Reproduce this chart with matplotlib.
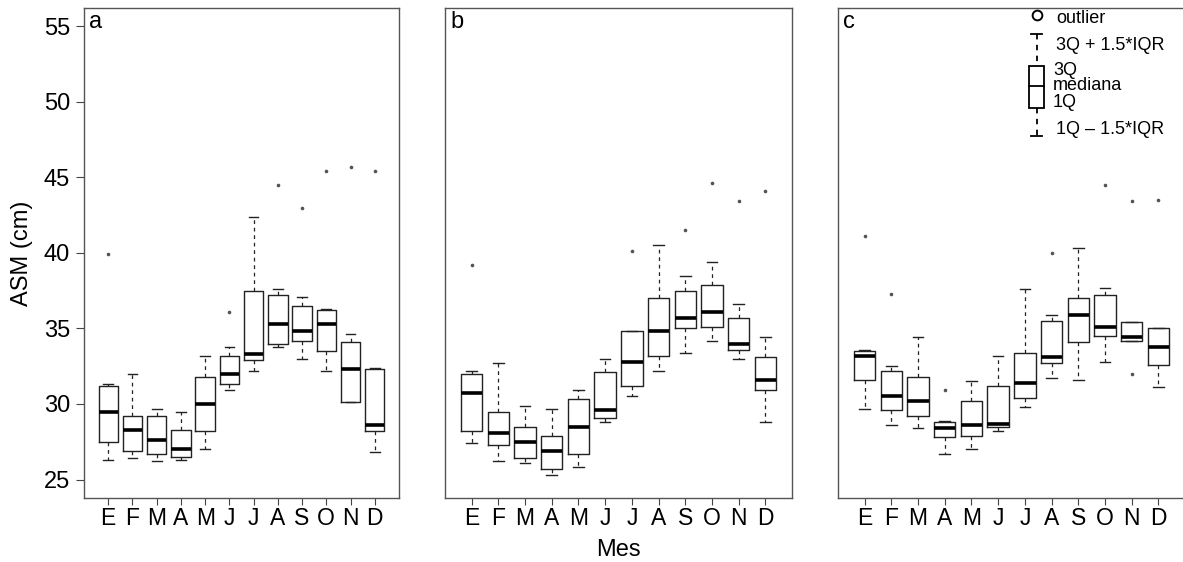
import matplotlib
matplotlib.use("Agg")
import matplotlib.pyplot as plt
from matplotlib.lines import Line2D
from matplotlib.patches import Rectangle

plt.rcParams["font.family"] = ["Liberation Sans", "DejaVu Sans"]

months = ["E", "F", "M", "A", "M", "J", "J", "A", "S", "O", "N", "D"]
panel_labels = ["a", "b", "c"]
y_ticks = [25, 30, 35, 40, 45, 50, 55]

# panel a
a_lo = [26.3, 26.4, 26.2, 26.3, 27.0, 30.9, 32.2, 33.8, 33.0, 32.2, 30.1, 26.8]
a_q1 = [27.5, 26.9, 26.7, 26.5, 28.2, 31.3, 32.9, 34.0, 34.2, 33.5, 30.1, 28.2]
a_med = [29.5, 28.3, 27.6, 27.0, 30.0, 32.0, 33.3, 35.3, 34.8, 35.3, 32.3, 28.6]
a_q3 = [31.2, 29.2, 29.2, 28.3, 31.8, 33.2, 37.5, 37.2, 36.5, 36.2, 34.1, 32.3]
a_hi = [31.3, 32.0, 29.7, 29.5, 33.2, 33.8, 42.4, 37.6, 37.1, 36.3, 34.6, 32.4]
a_out = [[39.9], [], [], [], [], [36.1], [], [44.5], [43.0], [45.4], [45.7], [45.4]]

# panel b
b_lo = [27.4, 26.2, 26.1, 25.3, 25.8, 28.8, 30.5, 32.2, 33.4, 34.2, 33.0, 28.8]
b_q1 = [28.2, 27.3, 26.4, 25.7, 26.7, 29.1, 31.2, 33.2, 35.0, 35.1, 33.6, 30.9]
b_med = [30.7, 28.1, 27.5, 26.9, 28.5, 29.6, 32.8, 34.8, 35.7, 36.1, 34.0, 31.6]
b_q3 = [32.0, 29.5, 28.5, 27.9, 30.3, 32.1, 34.8, 37.0, 37.5, 37.9, 35.7, 33.1]
b_hi = [32.2, 32.7, 29.9, 29.7, 30.9, 33.0, 34.8, 40.5, 38.5, 39.4, 36.6, 34.4]
b_out = [[39.2], [], [], [], [], [], [40.1], [], [41.5], [44.6], [43.4], [44.1]]

# panel c
c_lo = [29.7, 28.6, 28.4, 26.7, 27.0, 28.2, 29.8, 31.7, 31.6, 32.8, 34.2, 31.1]
c_q1 = [31.6, 29.6, 29.2, 27.8, 27.9, 28.5, 30.4, 32.7, 34.1, 34.5, 34.2, 32.6]
c_med = [33.2, 30.5, 30.2, 28.4, 28.6, 28.7, 31.4, 33.1, 35.9, 35.1, 34.4, 33.8]
c_q3 = [33.5, 32.2, 31.8, 28.8, 30.2, 31.2, 33.4, 35.5, 37.0, 37.2, 35.4, 35.0]
c_hi = [33.6, 32.5, 34.4, 28.9, 31.5, 33.2, 37.6, 35.9, 40.3, 37.7, 35.4, 35.0]
c_out = [[41.1], [37.3], [], [30.9], [], [], [], [40.0], [], [44.5], [43.4, 32.0], [43.5]]

panels = [
    (a_lo, a_q1, a_med, a_q3, a_hi, a_out),
    (b_lo, b_q1, b_med, b_q3, b_hi, b_out),
    (c_lo, c_q1, c_med, c_q3, c_hi, c_out),
]

W, H = 1183, 562
fig = plt.figure(figsize=(W / 100, H / 100), dpi=100)

# pixel extents of each panel (left, right); top and bottom shared
edges = [(84, 399), (445, 792), (838, 1185)]
top, bottom = 8, 497.7

for i, (x0, x1) in enumerate(edges):
    ax = fig.add_axes([x0 / W, 1 - bottom / H, (x1 - x0) / W, (bottom - top) / H])
    lo, q1, med, q3, hi, out = panels[i]
    stats = []
    for k in range(len(months)):
        stats.append(dict(whislo=lo[k], q1=q1[k], med=med[k], q3=q3[k],
                          whishi=hi[k], fliers=out[k]))
    ax.bxp(stats, positions=range(1, 13), widths=0.8, showfliers=True,
           boxprops=dict(color="#222222", linewidth=1.0),
           medianprops=dict(color="black", linewidth=2.6, solid_capstyle="butt"),
           whiskerprops=dict(color="#222222", linewidth=0.9, linestyle=(0, (3, 3))),
           capprops=dict(color="#222222", linewidth=1.0),
           capwidths=0.4,
           flierprops=dict(marker="o", markersize=1.6, markerfacecolor="#555555",
                           markeredgecolor="#555555", linestyle="none"))
    ax.set_xlim(0, 13)
    ax.set_ylim(23.8, 56.2)
    ax.set_xticks(range(1, 13))
    ax.set_xticklabels(months, fontsize=16.5)
    ax.tick_params(axis="x", length=5, width=0.8, color="#444444", pad=2)
    if i == 0:
        ax.set_yticks(y_ticks)
        ax.set_yticklabels([str(v) for v in y_ticks], fontsize=17)
        ax.tick_params(axis="y", length=6, width=0.8, color="#444444", pad=4)
        ax.set_ylabel("ASM (cm)", fontsize=17, labelpad=8)
    else:
        ax.set_yticks([])
    for s in ax.spines.values():
        s.set_color("#555555")
        s.set_linewidth(1.0)
    ax.text(5 / (x1 - x0), 1 - 3 / (bottom - top), panel_labels[i], transform=ax.transAxes,
            ha="left", va="top", fontsize=17)

fig.text(618 / W, 1 - 550 / H, "Mes", ha="center", va="center", fontsize=17)

# key inside panel c (figure pixel positions)
def fx(px):
    return px / W


def fy(py):
    return 1 - py / H


cx = 1036.5
tf = fig.transFigure
fig.add_artist(Line2D([fx(cx)], [fy(15)], transform=tf, marker="o", markersize=7,
                      markerfacecolor="white", markeredgecolor="black",
                      markeredgewidth=1.4, linestyle="none"))
fig.add_artist(Line2D([fx(cx - 5.5), fx(cx + 5.5)], [fy(34), fy(34)], transform=tf,
                      color="black", lw=1.3))
fig.add_artist(Line2D([fx(cx), fx(cx)], [fy(34), fy(66.5)], transform=tf,
                      color="black", lw=1.3, linestyle=(0, (3, 3))))
fig.add_artist(Rectangle((fx(1029), fy(107.5)), fx(1044) - fx(1029), fy(66.5) - fy(107.5),
                         transform=tf, facecolor="white", edgecolor="black", lw=1.3))
fig.add_artist(Line2D([fx(1029), fx(1044)], [fy(86), fy(86)], transform=tf,
                      color="black", lw=1.3))
fig.add_artist(Line2D([fx(cx), fx(cx)], [fy(107.5), fy(135.5)], transform=tf,
                      color="black", lw=1.3, linestyle=(0, (3, 3))))
fig.add_artist(Line2D([fx(cx - 5.5), fx(cx + 5.5)], [fy(135.5), fy(135.5)], transform=tf,
                      color="black", lw=1.3))

# text baselines in pixels
key_txt = [(1056, 23, "outlier"), (1056, 50, "3Q + 1.5*IQR"), (1053, 75, "3Q"),
           (1053, 90, "mediana"), (1053, 107, "1Q"), (1056, 134, "1Q \u2013 1.5*IQR")]
for px, py, t in key_txt:
    fig.text(fx(px), fy(py), t, ha="left", va="baseline", fontsize=13)

fig.savefig("out.png", dpi=100)
